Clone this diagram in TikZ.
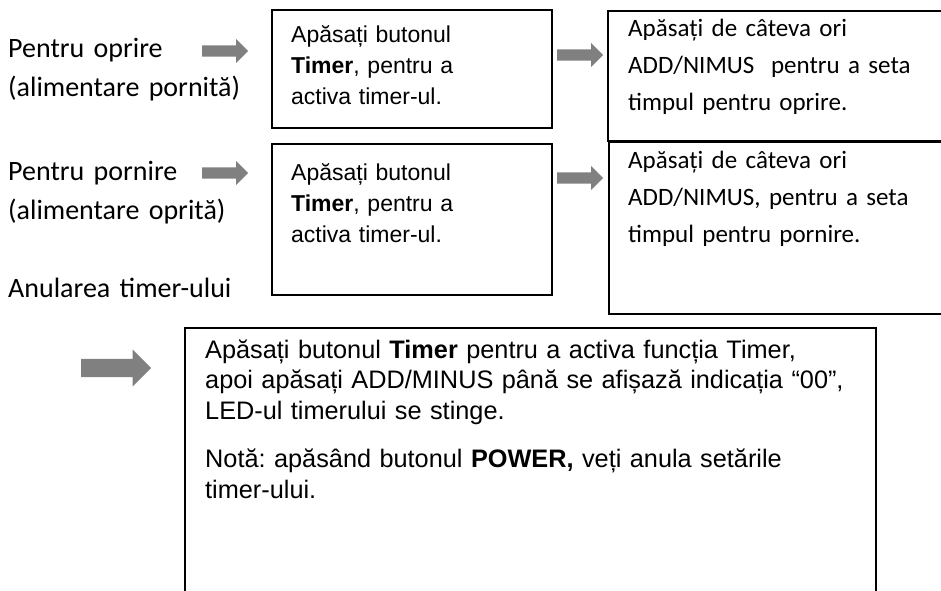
\documentclass[tikz,border=0pt]{standalone}
\usepackage{fontspec}
\usepackage{tikz}
\usetikzlibrary{calc,shapes.arrows}
\newfontfamily\arialfont{Liberation Sans}
\newfontfamily\calfont{Carlito}
\definecolor{arrgray}{HTML}{808080}
\frenchspacing
\tikzset{
  panel/.style={draw=black,line width=1.5pt,inner sep=0pt,anchor=north west},
  sidelbl/.style={anchor=base west,inner sep=0pt,align=left,text width=260pt,font=\calfont\fontsize{28}{39}\selectfont},
  artxt/.style={anchor=base west,inner sep=0pt,align=left,text width=#1,font=\arialfont\fontsize{23}{31}\selectfont},
  catxt/.style={anchor=base west,inner sep=0pt,align=left,text width=330pt,font=\calfont\fontsize{25}{37}\selectfont},
  gbar/.style={single arrow,fill=arrgray,draw=none,inner sep=0pt,anchor=tail,
    text height=11pt,text depth=0pt,minimum height=46pt,single arrow head extend=6.5pt},
  bigbar/.style={gbar,text height=18pt,minimum height=70pt,single arrow head extend=9.5pt}
}

\begin{document}
\begin{tikzpicture}[x=1pt,y=-1pt]
\useasboundingbox (0,0) rectangle (941,590);
\clip (0,0) rectangle (941,590);
% left column
\node[sidelbl] (lblOff) at (8,57) {Pentru oprire\\(alimentare pornită)};
\node[sidelbl] (lblOn) at (8,180) {Pentru pornire\\(alimentare oprită)};
\node[sidelbl] (lblCancel) at (8,297) {Anularea timer-ului};
% boxes
\node[panel,minimum width=280pt,minimum height=118pt] (btnOff) at (271,9) {};
\node[panel,minimum width=280pt,minimum height=151pt] (btnOn) at (271,143) {};
\node[panel,minimum width=360pt,minimum height=130pt] (setOff) at (607,10) {};
\node[panel,minimum width=360pt,minimum height=172pt] (setOn) at (608,141) {};
\node[panel,minimum width=691pt,minimum height=320pt] (cancelBox) at (184,327) {};
% box texts
\node[artxt=255pt] (btnOffTxt) at ([xshift=20pt,yshift=-33pt]btnOff.north west)
  {Apăsați butonul\\\textbf{Timer}, pentru a\\activa timer-ul.};
\node[artxt=255pt] (btnOnTxt) at ([xshift=20pt,yshift=-37pt]btnOn.north west)
  {Apăsați butonul\\\textbf{Timer}, pentru a\\activa timer-ul.};
\node[catxt] (setOffTxt) at ([xshift=21pt,yshift=-26pt]setOff.north west)
  {Apăsați de câteva ori\\ADD/NIMUS\ \ pentru a seta\\timpul pentru oprire.};
\node[catxt] (setOnTxt) at ([xshift=20pt,yshift=-27pt]setOn.north west)
  {Apăsați de câteva ori\\ADD/NIMUS, pentru a seta\\timpul pentru pornire.};
\node[artxt=685pt,font=\arialfont\fontsize{25.3}{30.5}\selectfont] (cancelTxt) at ([xshift=21pt,yshift=-31pt]cancelBox.north west)
  {Apăsați butonul \textbf{Timer} pentru a activa funcția Timer,\\apoi apăsați ADD/MINUS până se afișază indicația “00”,\\LED-ul timerului se stinge.\\[18pt]Notă: apăsând butonul \textbf{POWER,} veți anula setările\\timer-ului.};
% grey arrows
\node[gbar] (arOff1) at (202,51) {};
\node[gbar] (arOff2) at (557,55) {};
\node[gbar] (arOn1) at (202,173) {};
\node[gbar] (arOn2) at (557,178) {};
\node[bigbar] (arCancel) at (81,368) {};
\end{tikzpicture}
\end{document}
